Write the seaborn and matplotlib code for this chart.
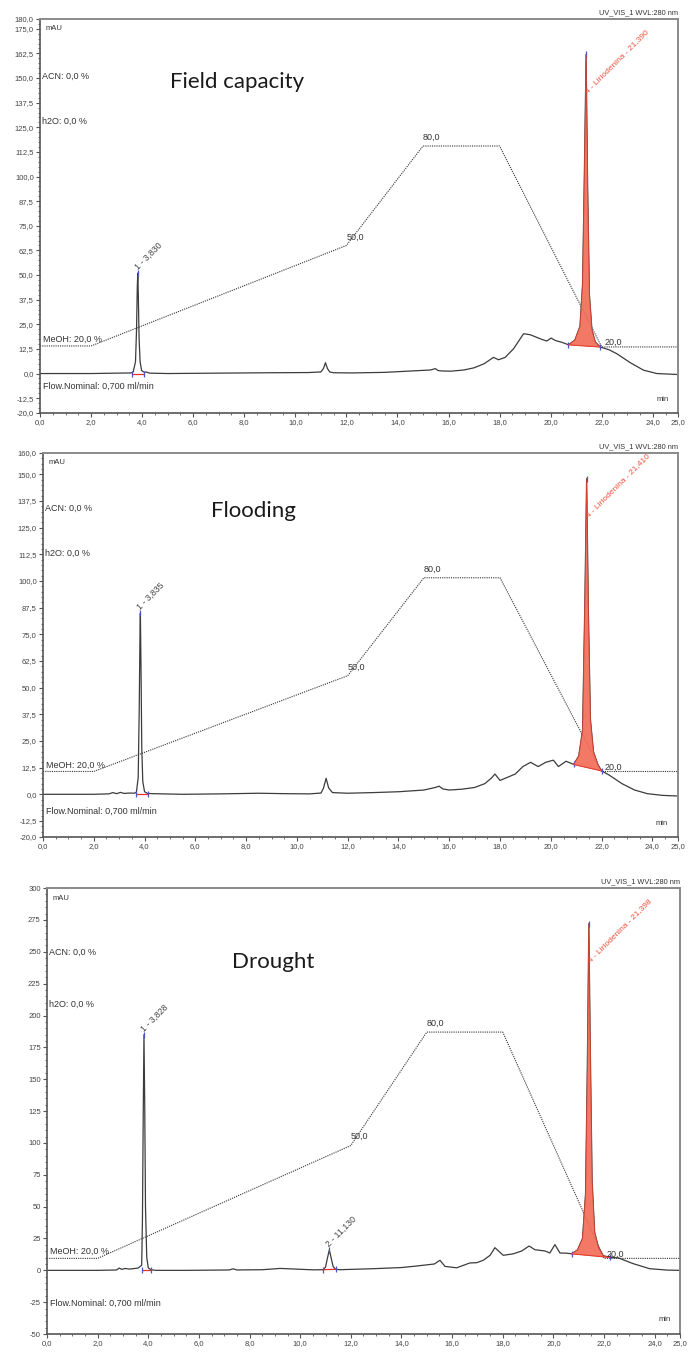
import numpy as np
import pandas as pd
import seaborn as sns
from matplotlib import pyplot as plt
from matplotlib.ticker import MultipleLocator, FixedLocator

# %%
# Datos leidos de los tres cromatogramas (min, mAU)
t_fc = [0.0, 1.0, 2.0, 3.0, 3.55, 3.59, 3.65, 3.74, 3.78, 3.81, 3.83, 3.85, 3.88, 3.92, 3.98, 4.09,
        4.15, 4.3, 5.0, 7.0, 9.0, 10.5, 11.0, 11.1, 11.18, 11.26, 11.35, 11.5, 12.2, 13.5, 14.4,
        15.3, 15.48, 15.6, 15.75, 16.1, 16.6, 17.0, 17.4, 17.76, 17.96, 18.22, 18.55, 18.94, 19.2,
        19.66, 19.85, 20.02, 20.18, 20.45, 20.7, 20.95, 21.15, 21.25, 21.32, 21.39, 21.45, 21.52,
        21.62, 21.75, 21.94, 22.3, 22.6, 23.12, 23.64, 24.16, 25.0]
y_fc = [0, 0, 0, 0.2, 0.3, 0.4, 0.8, 6, 22, 44, 51, 40, 18, 6, 1.5, 0.6,
        0.8, 0.2, 0, 0.2, 0.4, 0.5, 0.8, 2.5, 5.5, 2.5, 0.8, 0.4, 0.3, 0.6, 1.2,
        1.8, 2.5, 1.5, 1.3, 1.2, 1.8, 2.9, 5, 8.2, 7, 8.2, 12.6, 20.2, 19.7,
        17.3, 16.5, 18, 16.8, 15.8, 14.6, 17, 24, 45, 100, 162, 95, 40,
        22, 16, 13.5, 12, 10, 5.5, 1.7, 0, -0.5]

t_fl = [0.0, 1.0, 2.0, 2.6, 2.75, 2.9, 3.05, 3.2, 3.4, 3.6, 3.68, 3.75, 3.79, 3.82, 3.835, 3.86,
        3.89, 3.93, 4.0, 4.12, 4.3, 5.5, 7.0, 8.5, 9.5, 10.5, 10.95, 11.05, 11.15, 11.25, 11.4,
        12.0, 13.0, 14.0, 15.0, 15.45, 15.6, 15.75, 16.0, 16.5, 17.0, 17.4, 17.65, 17.8, 18.0,
        18.3, 18.6, 18.9, 19.2, 19.5, 19.8, 20.1, 20.3, 20.6, 20.9, 21.1, 21.25, 21.34, 21.41,
        21.48, 21.56, 21.68, 21.85, 22.0, 22.3, 22.8, 23.3, 23.8, 24.4, 25.0]
y_fl = [0, 0, 0, 0.2, 0.8, 0.3, 0.9, 0.4, 0.6, 0.5, 1.0, 8, 40, 75, 85, 60,
        22, 6, 1.2, 0.4, 0.3, 0, 0.2, 0.5, 0.3, 0.2, 0.6, 3, 7.5, 3, 0.8,
        0.5, 0.8, 1.2, 2.0, 3.2, 3.8, 2.5, 2.0, 2.4, 3.2, 5.0, 7.5, 9.5, 6.5,
        8.0, 9.5, 13.0, 15.0, 13.0, 15.0, 16.0, 13.0, 15.5, 14.0, 18, 30, 90, 148,
        85, 35, 20, 14, 11, 9, 5, 2, 0.3, -0.5, -0.8]

t_dr = [0.0, 1.0, 2.0, 2.75, 2.85, 2.95, 3.1, 3.25, 3.4, 3.6, 3.74, 3.77, 3.80, 3.83, 3.86, 3.89,
        3.94, 4.0, 4.1, 4.3, 5.5, 7.2, 7.35, 7.5, 8.5, 9.2, 9.6, 10.5, 10.9, 11.0, 11.08, 11.15,
        11.22, 11.3, 11.4, 11.57, 12.88, 14.0, 14.6, 15.3, 15.52, 15.72, 16.18, 16.7, 16.97, 17.23,
        17.5, 17.69, 18.02, 18.42, 18.75, 19.04, 19.27, 19.67, 19.86, 20.06, 20.26, 20.5, 20.72,
        20.95, 21.15, 21.27, 21.34, 21.40, 21.46, 21.53, 21.63, 21.78, 21.97, 22.24, 22.56, 23.16,
        23.8, 24.5, 25.0]
y_dr = [0, 0, 0, 0.3, 1.8, 0.8, 1.5, 1.0, 1.3, 1.8, 4, 40, 120, 185, 130, 50,
        10, 2, 0.5, 0, 0, 0.3, 1.2, 0.3, 0.5, 1.5, 1.2, 0.4, 0.5, 2.5, 10, 16,
        10, 3, 0.8, 0.5, 1.3, 2.2, 3.4, 5, 7.9, 3.1, 2, 5.8, 6.0, 7.9,
        11.8, 17.8, 11.8, 13, 15.2, 19.1, 16.2, 15.2, 13.6, 20.2, 13.6, 13.5, 13,
        16, 25, 60, 160, 272, 170, 70, 30, 18, 11.5, 10.2, 9.8, 5.2,
        1.3, 0.2, 0]

# gradiente MeOH (%), dibujado sobre la escala mAU de cada panel
grad_t = [0.0, 2.0, 12.0, 15.0, 18.0, 22.0, 25.0]
grad_lab = ['MeOH: 20,0 %', '', '50,0', '80,0', '', '20,0', '']
grad_fc = [14.0, 14.0, 65.0, 115.5, 115.5, 13.5, 13.5]
grad_fl = [10.7, 10.7, 55.6, 101.5, 101.5, 10.7, 10.7]
grad_dr = [9.4, 9.4, 98.0, 187.0, 187.0, 9.4, 9.4]

# picos etiquetados
pk_fc_t = [3.830, 21.390]
pk_fc_h = [51, 162]
pk_fc_lab = ['1 - 3,830', '4 - Liriodenina - 21,390']
pk_fl_t = [3.835, 21.410]
pk_fl_h = [85, 148]
pk_fl_lab = ['1 - 3,835', '4 - Liriodenina - 21,410']
pk_dr_t = [3.828, 11.130, 21.398]
pk_dr_h = [185, 16, 272]
pk_dr_lab = ['1 - 3,828', '2 - 11,130', '4 - Liriodenina - 21,398']

# limites de integracion (inicio, fin, base inicio, base fin)
int_fc = [(3.59, 4.09, 0.0, 0.0), (20.70, 21.94, 14.6, 13.5)]
int_fl = [(3.68, 4.12, 0.0, 0.0), (20.90, 22.00, 14.0, 11.0)]
int_dr = [(3.74, 4.10, 0.0, 0.0), (10.90, 11.40, 0.5, 0.8), (20.72, 22.24, 13.0, 10.2)]

titulos = ['Field capacity', 'Flooding', 'Drought']

# %%
sns.set_theme(style='white')
plt.rcParams['font.family'] = ['Liberation Sans', 'DejaVu Sans']

GRIS = '#3c3c3c'
ROJO = '#f0503c'
AZUL = '#4a55c8'


def etiqueta(v, dec):
    if dec:
        return f'{v:.1f}'.replace('.', ',')
    return f'{v:.0f}'


def panel(ax, t, y, grad, ymin, ymax, ystep, yminor, dec,
          pk_t, pk_h, pk_lab, integ, titulo, tpos):
    df = pd.DataFrame({'t': t, 'y': y})
    sns.lineplot(data=df, x='t', y='y', ax=ax, color=GRIS, linewidth=0.9,
                 estimator=None, sort=False)
    sns.lineplot(x=grad_t, y=grad, ax=ax, color='#333333', linewidth=0.8,
                 linestyle=(0, (1, 1)), estimator=None, sort=False)

    # area roja del pico principal
    for ini, fin, b0, b1 in integ:
        ax.plot([ini, fin], [b0, b1], color='#e8302a', linewidth=0.9)
        ax.plot([ini, fin], [b0, b1], linestyle='none', marker='|',
                color=AZUL, markersize=5, markeredgewidth=0.9)
        if fin - ini > 1.0:
            sel = df[(df.t >= ini) & (df.t <= fin)]
            xs = list(sel.t) + [fin, ini]
            ys = list(sel.y) + [b1, b0]
            ax.fill(xs, ys, color='#f26a55', alpha=0.9, edgecolor='#e0402a',
                    linewidth=0.5, zorder=3)

    for pt, ph, pl in zip(pk_t, pk_h, pk_lab):
        ax.plot([pt], [ph], marker='|', color=AZUL, markersize=4,
                markeredgewidth=0.9, linestyle='none')
        if 'Liriodenina' in pl:
            ax.annotate(pl, (pt, ph), xytext=(2, -29), textcoords='offset points',
                        rotation=45, rotation_mode='anchor', ha='left', va='bottom',
                        fontsize=6.0, color=ROJO, zorder=5)
        else:
            ax.annotate(pl, (pt, ph), xytext=(1, 1), textcoords='offset points',
                        rotation=45, rotation_mode='anchor', ha='left', va='bottom',
                        fontsize=6.3, color='#444444')

    # etiquetas del gradiente
    for gt, gy, gl in zip(grad_t, grad, grad_lab):
        if gl == '':
            continue
        if gl.startswith('MeOH'):
            ax.text(0.1, gy + 1.0 * (ymax - ymin) / 200, gl, fontsize=6.5,
                    color='#333333', ha='left', va='bottom')
        elif gl == '20,0':
            ax.text(gt + 0.1, gy, gl, fontsize=6.5, color='#333333',
                    ha='left', va='bottom')
        else:
            ax.text(gt, gy + (ymax - ymin) * 0.01, gl, fontsize=6.5,
                    color='#333333', ha='left', va='bottom')

    ax.set_xlim(0, 25)
    ax.set_ylim(ymin, ymax)
    if dec:
        yt = [ymin, -12.5] + list(np.arange(0, ymax - 1e-6, ystep)) + [ymax]
    else:
        yt = list(np.arange(ymin, ymax + 1e-6, ystep))
    ax.yaxis.set_major_locator(FixedLocator(yt))
    ax.set_yticklabels([etiqueta(v, dec) for v in yt])
    ax.yaxis.set_minor_locator(MultipleLocator(yminor))
    xt = list(range(0, 25, 2)) + [25]
    ax.xaxis.set_major_locator(FixedLocator(xt))
    ax.set_xticklabels([etiqueta(v, True) for v in xt])
    ax.xaxis.set_minor_locator(MultipleLocator(0.5))
    ax.tick_params(axis='both', which='major', direction='out', length=3,
                   width=0.8, color='#555555', labelsize=5.5, labelcolor='#444444',
                   pad=1.5, left=True, bottom=True)
    ax.tick_params(axis='both', which='minor', direction='out', length=1.5,
                   width=0.6, color='#555555', left=True, bottom=True)
    ax.set_xlabel('')
    ax.set_ylabel('')
    for lado in ['top', 'right']:
        ax.spines[lado].set_color('#8a8a8a')
        ax.spines[lado].set_linewidth(1.4)
    for lado in ['left', 'bottom']:
        ax.spines[lado].set_color('#555555')
        ax.spines[lado].set_linewidth(1.2)

    tr = ax.transAxes
    ax.text(0.008, 0.985, 'mAU', transform=tr, fontsize=5.5, color='#333333',
            ha='left', va='top')
    ax.text(0.003, 0.855, 'ACN: 0,0 %', transform=tr, fontsize=6.5,
            color='#333333', ha='left', va='center')
    ax.text(0.003, 0.74, 'h2O: 0,0 %', transform=tr, fontsize=6.5,
            color='#333333', ha='left', va='center')
    ax.text(0.004, 0.068, 'Flow.Nominal: 0,700 ml/min', transform=tr,
            fontsize=6.5, color='#333333', ha='left', va='center')
    ax.text(0.985, 0.025, 'min', transform=tr, fontsize=5.5, color='#333333',
            ha='right', va='bottom')
    ax.text(1.0, 1.006, 'UV_VIS_1 WVL:280 nm', transform=tr, fontsize=5.3,
            color='#333333', ha='right', va='bottom')
    ax.text(tpos[0], tpos[1], titulo, transform=tr, fontsize=16,
            family=['Lato', 'DejaVu Sans'], color='#1a1a1a', ha='center',
            va='center')


fig = plt.figure(figsize=(6.9, 13.53), dpi=100)
ax1 = fig.add_axes([0.058, 0.6948, 0.925, 0.2912])
ax2 = fig.add_axes([0.0623, 0.3814, 0.920, 0.2838])
ax3 = fig.add_axes([0.0681, 0.0140, 0.9174, 0.3296])

panel(ax1, t_fc, y_fc, grad_fc, -20, 180, 12.5, 2.5, True,
      pk_fc_t, pk_fc_h, pk_fc_lab, int_fc, titulos[0], (0.309, 0.84))
panel(ax2, t_fl, y_fl, grad_fl, -20, 160, 12.5, 2.5, True,
      pk_fl_t, pk_fl_h, pk_fl_lab, int_fl, titulos[1], (0.332, 0.85))
panel(ax3, t_dr, y_dr, grad_dr, -50, 300, 25, 5, False,
      pk_dr_t, pk_dr_h, pk_dr_lab, int_dr, titulos[2], (0.357, 0.835))

fig.savefig('out.png', dpi=100)
